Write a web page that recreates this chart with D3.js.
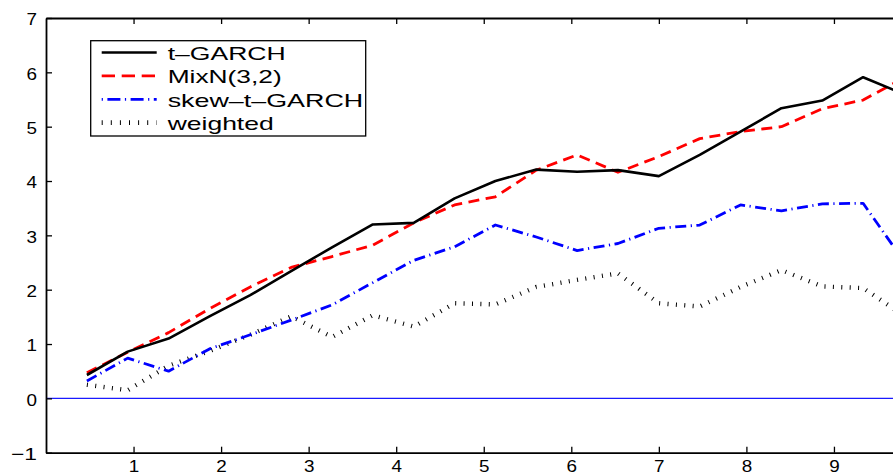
<!DOCTYPE html>
<html>
<head>
<meta charset="utf-8">
<script src="https://cdn.jsdelivr.net/npm/d3@7"></script>
<style>
  html, body { margin: 0; padding: 0; background: #fff; }
  svg { display: block; }
  text { font-family: "Liberation Sans", Arial, Helvetica, sans-serif; fill: #000; }
</style>
</head>
<body>
<svg id="chart" width="893" height="473"></svg>
<script>
// ---- data ----
const xVals = [0.467, 0.933, 1.4, 1.867, 2.333, 2.8, 3.267, 3.733, 4.2, 4.667, 5.133,
               5.6, 6.067, 6.533, 7.0, 7.467, 7.933, 8.4, 8.867, 9.333, 9.8];
const tGarch   = [0.43, 0.86, 1.10, 1.51, 1.90, 2.34, 2.78, 3.20, 3.23, 3.68, 4.00,
                  4.21, 4.17, 4.20, 4.09, 4.48, 4.91, 5.34, 5.48, 5.91, 5.60];
const mixN     = [0.47, 0.85, 1.21, 1.65, 2.05, 2.41, 2.61, 2.82, 3.23, 3.56, 3.71,
                  4.20, 4.48, 4.16, 4.45, 4.78, 4.91, 5.00, 5.33, 5.49, 5.90];
const skewT    = [0.32, 0.74, 0.50, 0.91, 1.17, 1.44, 1.72, 2.13, 2.54, 2.79, 3.19,
                  2.97, 2.72, 2.85, 3.13, 3.19, 3.56, 3.45, 3.58, 3.59, 2.52];
const weighted = [0.25, 0.15, 0.60, 0.87, 1.17, 1.51, 1.13, 1.53, 1.32, 1.75, 1.73,
                  2.05, 2.18, 2.30, 1.75, 1.69, 2.05, 2.36, 2.06, 2.03, 1.52];
const seriesNames = ["t–GARCH", "MixN(3,2)", "skew–t–GARCH", "weighted"];
const xTicks = [1, 2, 3, 4, 5, 6, 7, 8, 9];
const yTicks = [-1, 0, 1, 2, 3, 4, 5, 6, 7];
const xDomain = [0, 10];
const yDomain = [-1, 7];

// ---- layout ----
const svg = d3.select("#chart");
const x = d3.scaleLinear().domain(xDomain).range([46, 921.5]);
const y = d3.scaleLinear().domain(yDomain).range([452.7, 18]);

svg.append("defs").append("clipPath").attr("id", "plotClip")
  .append("rect")
  .attr("x", x(xDomain[0])).attr("y", y(yDomain[1]))
  .attr("width", x(xDomain[1]) - x(xDomain[0]))
  .attr("height", y(yDomain[0]) - y(yDomain[1]));

// zero line
svg.append("line")
  .attr("x1", x(xDomain[0])).attr("x2", x(xDomain[1]))
  .attr("y1", y(0)).attr("y2", y(0))
  .attr("stroke", "#1a1aff").attr("stroke-width", 1.1);

// series
const styles = [
  { data: tGarch,   color: "#000", width: 2.6, dash: null },
  { data: mixN,     color: "#ff0000", width: 2.8, dash: "11,6.5" },
  { data: skewT,    color: "#0000ff", width: 2.8, dash: "11,4.5,1.2,4.5" },
  { data: weighted, color: "#000", width: 4.4, dash: "1,7.4" }
];

const line = d3.line().x((d, i) => x(xVals[i])).y(d => y(d));
const plot = svg.append("g").attr("clip-path", "url(#plotClip)");
styles.slice().reverse().forEach(s => {
  plot.append("path")
    .datum(s.data)
    .attr("d", line)
    .attr("fill", "none")
    .attr("stroke", s.color)
    .attr("stroke-width", s.width)
    .attr("stroke-linejoin", "round")
    .attr("stroke-dasharray", s.dash);
});

// axes
const fmt = d => (d < 0 ? "−" + Math.abs(d) : String(d));
const gx = svg.append("g").attr("transform", `translate(0,${y(yDomain[0])})`)
  .call(d3.axisBottom(x).tickValues(xTicks).tickSizeInner(-6).tickSizeOuter(0)
        .tickPadding(7).tickFormat(fmt));
const gxTop = svg.append("g").attr("transform", `translate(0,${y(yDomain[1])})`)
  .call(d3.axisTop(x).tickValues(xTicks).tickSizeInner(-6).tickSizeOuter(0)
        .tickFormat(""));
const gy = svg.append("g").attr("transform", `translate(${x(xDomain[0])},0)`)
  .call(d3.axisLeft(y).tickValues(yTicks).tickSizeInner(-6).tickSizeOuter(0)
        .tickPadding(9).tickFormat(fmt));

[gx, gxTop, gy].forEach(g => {
  g.select(".domain").attr("stroke", "#000").attr("stroke-width", 1.8);
  g.selectAll(".tick line").attr("stroke", "#000").attr("stroke-width", 1.3);
  g.selectAll("text")
    .attr("font-size", 17)
    .attr("font-family", "'Liberation Sans', Arial, sans-serif")
    .attr("fill", "#000");
});
gy.selectAll(".tick text").attr("dy", "0.40em")
  .attr("textLength", d => d < 0 ? 26 : 10.5)
  .attr("lengthAdjust", "spacingAndGlyphs");
gx.selectAll(".tick text")
  .attr("textLength", 10.5)
  .attr("lengthAdjust", "spacingAndGlyphs");

// legend
const legend = svg.append("g");
legend.append("rect")
  .attr("x", 90.7).attr("y", 40.7).attr("width", 275).attr("height", 95.3)
  .attr("fill", "#fff").attr("stroke", "#000").attr("stroke-width", 1.3);
const textWidths = [118, 114, 195.5, 106];
styles.forEach((s, i) => {
  const base = 60 + i * 23.4;
  legend.append("line")
    .attr("x1", 101.7).attr("x2", 156.7)
    .attr("y1", base - 7.5).attr("y2", base - 7.5)
    .attr("stroke", s.color)
    .attr("stroke-width", i === 3 ? 4.8 : s.width)
    .attr("stroke-dasharray", i === 1 ? "13.3,6.7" : (i === 2 ? "1.2,4.5,13,4.5" : (i === 3 ? "1,8.1" : null)));
  legend.append("text")
    .attr("x", 167.7).attr("y", base)
    .attr("font-size", 18.5)
    .attr("textLength", textWidths[i])
    .attr("lengthAdjust", "spacingAndGlyphs")
    .text(seriesNames[i]);
});
</script>
</body>
</html>
